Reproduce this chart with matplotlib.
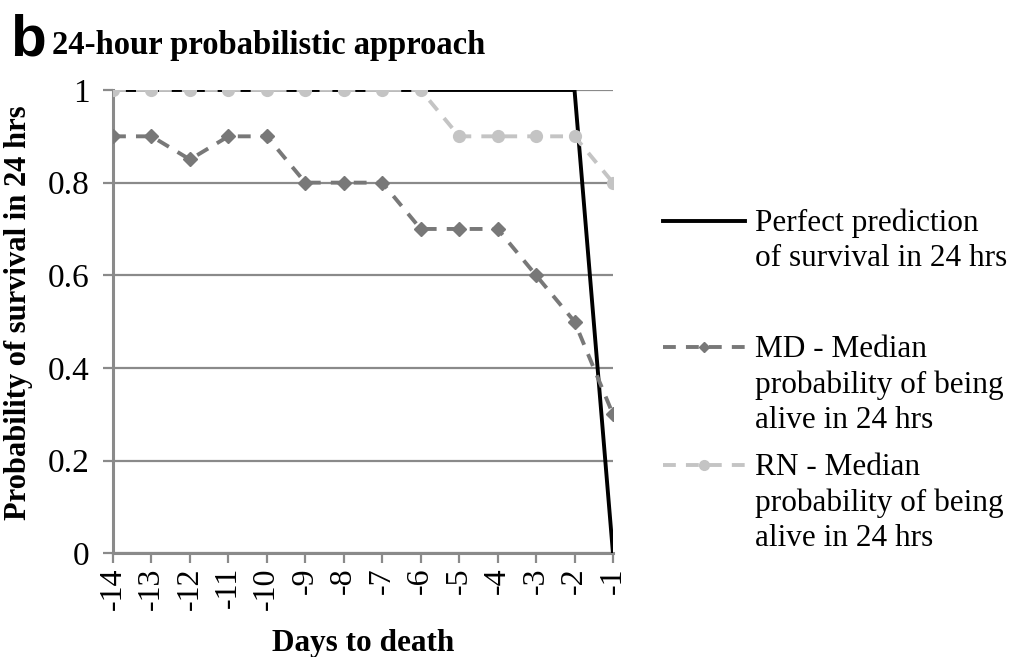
import matplotlib.pyplot as plt
from matplotlib.lines import Line2D

days = [-14, -13, -12, -11, -10, -9, -8, -7, -6, -5, -4, -3, -2, -1]
perfect = [1, 1, 1, 1, 1, 1, 1, 1, 1, 1, 1, 1, 1, 0]
md = [0.9, 0.9, 0.85, 0.9, 0.9, 0.8, 0.8, 0.8, 0.7, 0.7, 0.7, 0.6, 0.5, 0.3]
rn = [1, 1, 1, 1, 1, 1, 1, 1, 1, 0.9, 0.9, 0.9, 0.9, 0.8]

labels = ["Perfect prediction\nof survival in 24 hrs",
          "MD - Median\nprobability of being\nalive in 24 hrs",
          "RN - Median\nprobability of being\nalive in 24 hrs"]

plt.rcParams['font.family'] = ['Liberation Serif', 'DejaVu Serif']

fig = plt.figure(figsize=(10.12, 6.57), dpi=100)
ax = fig.add_axes([0.1117, 0.158, 0.494, 0.705])

gcol = '#8a8a8a'
dash = (0, (3.3, 2.6))
ax.plot(days, perfect, color='black', lw=2.8, zorder=3)
ax.plot(days, md, color='#787878', lw=2.8, ls=dash,
        marker='D', ms=7, zorder=4)
ax.plot(days, rn, color='#c4c4c4', lw=2.8, ls=dash,
        marker='o', ms=8.5, zorder=5)

ax.set_xlim(-14, -1)
ax.set_ylim(0, 1)
ax.set_xticks(days)
ax.set_xticklabels([str(d) for d in days], rotation=90, fontsize=23)
ax.set_yticks([0, 0.2, 0.4, 0.6, 0.8, 1])
ax.set_yticklabels(['0', '0.2', '0.4', '0.6', '0.8', '1'], fontsize=24)
ax.yaxis.grid(True, color=gcol, lw=1.6)
ax.set_axisbelow(True)
ax.tick_params(axis='both', color=gcol, width=1.6, length=7, direction='out')
ax.tick_params(axis='x', pad=3)
ax.tick_params(axis='y', pad=10)
for s in ['top', 'right']:
    ax.spines[s].set_visible(False)
for s in ['left', 'bottom']:
    ax.spines[s].set_color(gcol)
    ax.spines[s].set_linewidth(2.2)

ax.set_xlabel("Days to death", fontsize=22.5, fontweight='bold', labelpad=14)
ax.set_ylabel("Probability of survival in 24 hrs", fontsize=22,
              fontweight='bold')
ax.yaxis.set_label_coords(-0.16, 0.52)

fig.text(0.01, 0.916, "b", fontsize=42, fontweight='bold',
         family=['Liberation Sans', 'DejaVu Sans'], va='baseline')
fig.text(0.051, 0.918, "24-hour probabilistic approach", fontsize=23.5,
         fontweight='bold', va='baseline')

# legend drawn by hand, handle aligned to the first line of each entry
styles = [dict(color='black', lw=2.8),
          dict(color='#787878', lw=2.8, ls=dash, marker='D', ms=5,
               markevery=[1]),
          dict(color='#c4c4c4', lw=2.8, ls=dash, marker='o', ms=7,
               markevery=[1])]
ys = [221, 347, 465]
for lab, st, y in zip(labels, styles, ys):
    yf = 1 - y / 657
    fig.add_artist(Line2D([663 / 1012, 704 / 1012, 745 / 1012], [yf, yf, yf],
                          transform=fig.transFigure, **st))
    fig.text(755 / 1012, yf + 0.019, lab, fontsize=22.5, va='top',
             linespacing=1.29)

fig.savefig("out.png", dpi=100)
